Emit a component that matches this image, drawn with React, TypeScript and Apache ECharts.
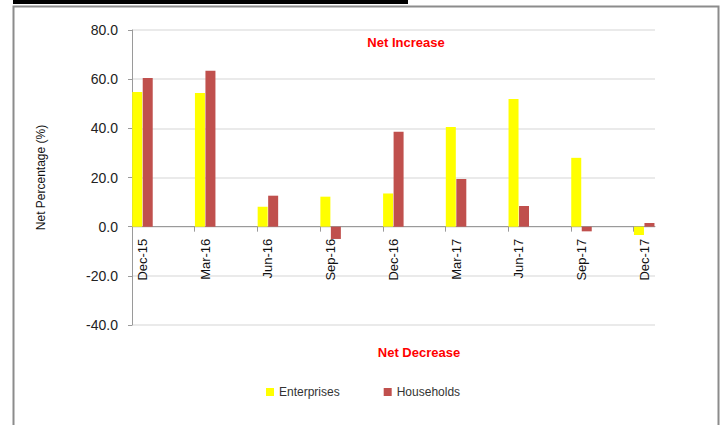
import React, { useEffect, useRef } from "react";
import * as echarts from "echarts";

const categories = ["Dec-15", "Mar-16", "Jun-16", "Sep-16", "Dec-16", "Mar-17", "Jun-17", "Sep-17", "Dec-17"];
const enterprises = [54.8, 54.4, 8.1, 12.2, 13.5, 40.5, 51.9, 28.0, -3.4];
const households = [60.5, 63.4, 12.6, -5.0, 38.6, 19.4, 8.4, -1.9, 1.5];
const yTicks = { min: -40, max: 80, interval: 20 };
const seriesNames = ["Enterprises", "Households"];

const PAIR_HALF = 0.167; // half width of a bar pair, in category units
const W = 724;
const H = 425;
const GRID = { left: 132, right: 69, top: 30, bottom: 100 };

export default function App() {
  const ref = useRef<HTMLDivElement>(null);
  useEffect(() => {
    document.body.style.margin = "0";
    const chart = echarts.init(ref.current!, undefined, { renderer: "svg" });
    const idx = categories.map((_, i) => i);
    const plotH = H - GRID.top - GRID.bottom;
    const zeroOffset = -plotH * (0 - yTicks.min) / (yTicks.max - yTicks.min);
    chart.setOption({
      animation: false,
      backgroundColor: "#ffffff",
      textStyle: { fontFamily: "Liberation Sans, Arial, sans-serif" },
      grid: GRID,
      legend: {
        data: seriesNames,
        left: 261,
        top: 381,
        itemWidth: 8,
        itemHeight: 8,
        itemGap: 44,
        icon: "rect",
        textStyle: { fontSize: 12, color: "#333333", fontFamily: "Liberation Sans, Arial, sans-serif" },
      },
      xAxis: {
        type: "value",
        min: -PAIR_HALF,
        max: categories.length - 1 + PAIR_HALF + 0.005,
        offset: zeroOffset,
        axisLine: { onZero: false, lineStyle: { color: "#9a9a9a", width: 1 } },
        axisTick: {
          show: true,
          length: 5,
          customValues: idx.map((i) => i - PAIR_HALF),
          lineStyle: { color: "#9a9a9a" },
        },
        axisLabel: {
          customValues: idx,
          formatter: (v: number) => categories[Math.round(v)] ?? "",
          rotate: 90,
          margin: 12,
          fontSize: 13,
          color: "#111111",
          fontFamily: "Liberation Sans, Arial, sans-serif",
        },
        splitLine: { show: false },
      },
      yAxis: {
        type: "value",
        min: yTicks.min,
        max: yTicks.max,
        interval: yTicks.interval,
        name: "Net Percentage (%)",
        nameLocation: "middle",
        nameGap: 85,
        nameTextStyle: { fontSize: 12, color: "#111111", fontFamily: "Liberation Sans, Arial, sans-serif" },
        axisLine: { show: true, onZero: false, lineStyle: { color: "#9a9a9a", width: 1 } },
        axisTick: { show: true, length: 4, lineStyle: { color: "#9a9a9a" } },
        axisLabel: {
          formatter: (v: number) => v.toFixed(1),
          margin: 14,
          fontSize: 14,
          color: "#222222",
          fontFamily: "Liberation Sans, Arial, sans-serif",
        },
        splitLine: { show: true, lineStyle: { color: "#e3e3e3", width: 1.5 } },
      },
      series: [
        {
          name: seriesNames[0],
          type: "bar",
          data: enterprises.map((v, i) => [i, v]),
          barWidth: 10,
          barGap: "5%",
          itemStyle: { color: "#FFFF00" },
        },
        {
          name: seriesNames[1],
          type: "bar",
          data: households.map((v, i) => [i, v]),
          barWidth: 10,
          barGap: "5%",
          itemStyle: { color: "#C0504D" },
        },
      ],
      graphic: [
        {
          type: "rect",
          shape: { x: 13.5, y: 6.5, width: 705, height: 430 },
          style: { fill: "none", stroke: "#8c8c8c", lineWidth: 2 },
          silent: true,
        },
        {
          type: "rect",
          shape: { x: 13, y: 0, width: 395, height: 4 },
          style: { fill: "#000000" },
          silent: true,
        },
        {
          type: "text",
          x: 406,
          y: 42,
          style: {
            text: "Net Increase",
            fill: "#FF0000",
            font: "bold 13px 'Liberation Sans', Arial, sans-serif",
            align: "center",
            verticalAlign: "middle",
          },
        },
        {
          type: "text",
          x: 419,
          y: 352,
          style: {
            text: "Net Decrease",
            fill: "#FF0000",
            font: "bold 13px 'Liberation Sans', Arial, sans-serif",
            align: "center",
            verticalAlign: "middle",
          },
        },
      ],
    });
    return () => chart.dispose();
  }, []);
  return <div ref={ref} style={{ width: W, height: H }} />;
}
